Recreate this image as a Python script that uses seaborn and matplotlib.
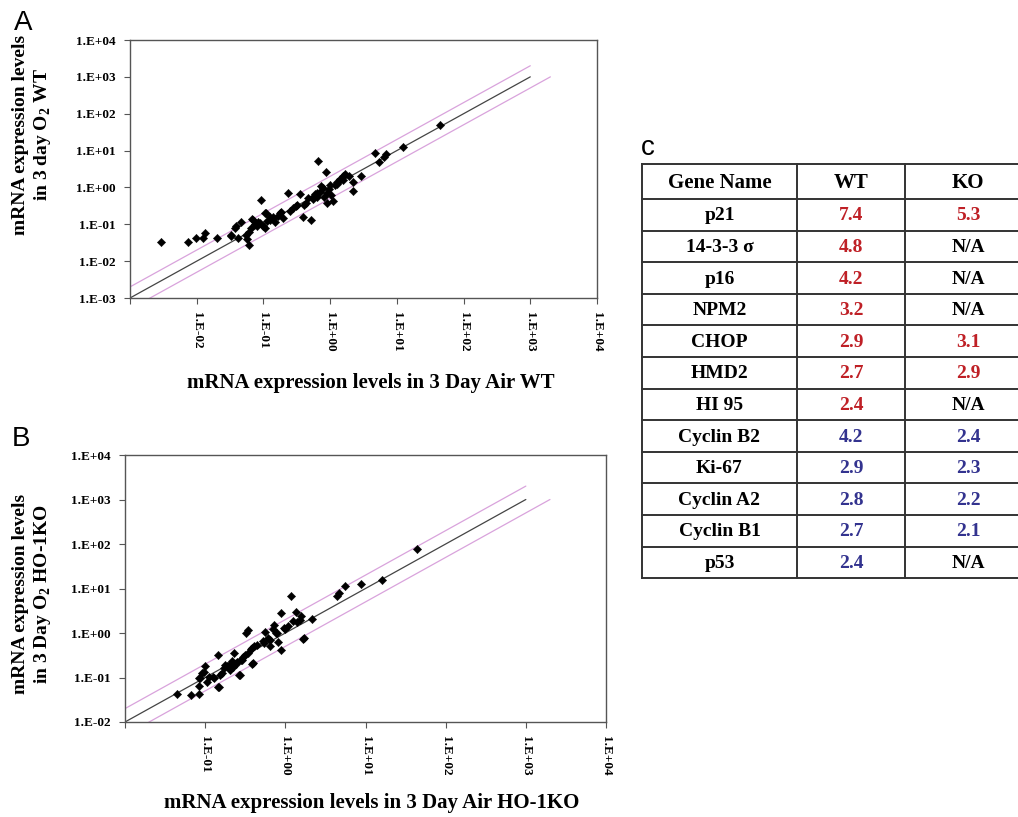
import numpy as np
import pandas as pd
import matplotlib
matplotlib.use("Agg")
import matplotlib.pyplot as plt
import seaborn as sns

# ---- data (log10 values) ----
wt_air_log = [-2.54, -2.13, -2.01, -1.91, -1.87, -1.69, -1.48, -1.41, -1.38, -1.34,
              -1.26, -1.24, -1.22, -1.21, -1.19, -1.17, -1.13, -1.08, -1.03, -1.01,
              -0.98, -0.96, -0.94, -0.90, -0.86, -0.83, -0.78, -0.74, -0.70, -0.63,
              -0.60, -0.51, -0.45, -0.41, -0.39, -0.36, -0.29, -0.26, -0.23, -0.20,
              -0.18, -0.15, -0.13, -0.09, -0.06, -0.04, -0.01, 0.01, 0.04, 0.07,
              0.10, 0.13, 0.15, 0.19, 0.23, 0.34, 0.35, 0.46, 0.67, 0.73,
              0.80, 0.84, 1.09, 1.64, -0.75, -0.85, -0.90, -0.98, -1.05, -1.10,
              -1.15, 0.10, 0.00, -0.10, -0.20, -0.25, -0.50, -1.43, -1.48, -0.55,
              -0.33, -0.05, 0.20, 0.28]
wt_o2_log = [-1.47, -1.47, -1.38, -1.38, -1.24, -1.38, -1.31, -1.05, -1.37, -0.93,
             -1.29, -1.41, -1.56, -1.22, -1.11, -0.86, -0.99, -0.93, -0.33, -1.04,
             -1.11, -0.69, -0.90, -0.81, -0.87, -0.93, -0.78, -0.66, -0.84, -0.14,
             -0.63, -0.51, -0.18, -0.81, -0.48, -0.41, -0.88, -0.32, -0.18, -0.27,
             0.72, -0.12, 0.05, -0.27, 0.41, -0.41, -0.05, -0.21, -0.36, 0.06,
             0.09, 0.18, 0.24, 0.32, 0.36, -0.11, 0.14, 0.32, 0.93, 0.68,
             0.83, 0.90, 1.11, 1.69, -0.70, -0.79, -0.88, -0.70, -0.97, -1.06,
             -0.88, 0.16, 0.07, -0.02, -0.15, -0.25, -0.47, -1.10, -1.28, -0.55,
             -0.30, -0.15, 0.20, 0.30]

ko_air_log = [-1.35, -1.18, -1.08, -1.08, -1.08, -1.04, -1.00, -0.98, -0.95, -0.89,
              -0.84, -0.84, -0.82, -0.79, -0.76, -0.73, -0.70, -0.66, -0.64, -0.58,
              -0.55, -0.53, -0.49, -0.47, -0.46, -0.43, -0.41, -0.39, -0.35, -0.28,
              -0.25, -0.22, -0.19, -0.16, -0.14, -0.12, -0.09, -0.05, -0.05, -0.01,
              0.03, 0.07, 0.10, 0.13, 0.18, 0.20, 0.22, 0.33, 0.65, 0.67,
              0.74, 0.95, 1.20, 1.64, -0.69, -0.65, -0.75, -0.54, -0.50, -0.42,
              -0.27, -0.19, -0.10, -0.02, 0.15, -1.02, -1.06, -0.90, -0.83, -0.56,
              -0.40, 0.23, -0.62, -0.60, -0.68]
ko_o2_log = [-1.37, -1.39, -1.37, -1.20, -1.02, -0.90, -0.75, -1.09, -0.98, -1.02,
             -0.49, -1.22, -0.95, -0.90, -0.79, -0.75, -0.71, -0.64, -0.45, -0.94,
             -0.60, -0.53, 0.00, 0.06, -0.45, -0.36, -0.70, -0.30, -0.26, -0.19,
             0.02, -0.11, -0.30, 0.09, 0.17, 0.00, -0.21, -0.38, 0.44, 0.08,
             0.15, 0.83, 0.26, 0.47, 0.30, 0.38, -0.13, 0.32, 0.84, 0.89,
             1.05, 1.09, 1.19, 1.88, -0.83, -0.76, -0.72, -0.61, -0.49, -0.34,
             -0.23, -0.16, -0.01, 0.11, 0.25, -0.87, -1.02, -0.98, -1.21, -0.94,
             -0.68, -0.12, -0.70, -0.66, -0.72]

fold_lines = [0.5, 1.0, 2.0]   # y = fold * x reference lines
line_top = 1e3

genes = ["p21", "14-3-3 σ", "p16", "NPM2", "CHOP", "HMD2", "HI 95",
         "Cyclin B2", "Ki-67", "Cyclin A2", "Cyclin B1", "p53"]
wt_fold = ["7.4", "4.8", "4.2", "3.2", "2.9", "2.7", "2.4",
           "4.2", "2.9", "2.8", "2.7", "2.4"]
ko_fold = ["5.3", "N/A", "N/A", "N/A", "3.1", "2.9", "N/A",
           "2.4", "2.3", "2.2", "2.1", "N/A"]
direction = ["up"] * 7 + ["down"] * 5

df_a = pd.DataFrame({"air": np.power(10.0, wt_air_log), "o2": np.power(10.0, wt_o2_log)})
df_b = pd.DataFrame({"air": np.power(10.0, ko_air_log), "o2": np.power(10.0, ko_o2_log)})

# ---- style ----
sns.set_theme(style="ticks")
plt.rcParams["font.family"] = ["Liberation Serif", "DejaVu Serif"]
plt.rcParams["font.weight"] = "bold"
plt.rcParams["text.color"] = "black"
plt.rcParams["xtick.labelcolor"] = "black"
plt.rcParams["ytick.labelcolor"] = "black"
plt.rcParams["mathtext.fontset"] = "custom"
plt.rcParams["mathtext.rm"] = "Liberation Serif:bold"

W, H = 1018, 817
fig = plt.figure(figsize=(W / 100, H / 100), dpi=100)


def px_axes(left, top, right, bottom):
    return fig.add_axes([left / W, 1 - bottom / H, (right - left) / W, (bottom - top) / H])


PINK = "#d9a3dc"
RED = "#bf2026"
BLUE = "#33338f"


def scatter_panel(ax, df, lo):
    for f in fold_lines:
        x_end = line_top / min(f, 1.0)
        xs = np.array([lo, x_end])
        line_df = pd.DataFrame({"x": xs, "y": xs * f})
        sns.lineplot(data=line_df, x="x", y="y", ax=ax,
                     color="#444444" if f == 1.0 else PINK,
                     lw=0.9, zorder=1)
    sns.scatterplot(data=df, x="air", y="o2", ax=ax, marker="D", s=18,
                    color="black", edgecolor="black", linewidth=0.3, zorder=3)
    ax.set_xscale("log")
    ax.set_yscale("log")
    ax.set_xlim(lo, 1e4)
    ax.set_ylim(lo, 1e4)
    ax.set_xlabel("")
    ax.set_ylabel("")
    decades = np.arange(int(np.log10(lo)), 5)
    ticks = [10.0 ** d for d in decades]
    labels = ["1.E%s%02d" % ("+" if d >= 0 else "-", abs(d)) for d in decades]
    ax.set_yticks(ticks)
    ax.set_yticklabels(labels)
    ax.set_xticks(ticks)
    ax.set_xticklabels([""] + labels[1:], rotation=-90, va="top")
    ax.minorticks_off()
    ax.tick_params(axis="both", length=4, width=0.8, color="#555555",
                   labelcolor="black", labelsize=9.5, pad=6)
    for lab in ax.get_xticklabels() + ax.get_yticklabels():
        lab.set_fontweight("bold")
    for sp in ax.spines.values():
        sp.set_visible(True)
        sp.set_color("#555555")
        sp.set_linewidth(1.0)


# Panel A
ax_a = px_axes(130, 40, 597, 298)
scatter_panel(ax_a, df_a, 1e-3)
fig.text(33 / W, 1 - 135 / H, "mRNA expression levels\nin 3 day O$_\\mathregular{2}$ WT",
         rotation=90, ha="center", va="center", multialignment="center",
         fontsize=14, fontweight="bold", color="black")
fig.text(371 / W, 1 - 383 / H, "mRNA expression levels in 3 Day Air WT",
         ha="center", va="center", fontsize=15, fontweight="bold", color="black")

# Panel B
ax_b = px_axes(125, 455, 606, 722)
scatter_panel(ax_b, df_b, 1e-2)
fig.text(33 / W, 1 - 594 / H, "mRNA expression levels\nin 3 Day O$_\\mathregular{2}$ HO-1KO",
         rotation=90, ha="center", va="center", multialignment="center",
         fontsize=14, fontweight="bold", color="black")
fig.text(372 / W, 1 - 803 / H, "mRNA expression levels in 3 Day Air HO-1KO",
         ha="center", va="center", fontsize=15, fontweight="bold", color="black")

# Panel letters
for letter, x, y in [("A", 23, 23), ("B", 21, 439), ("c", 648, 148)]:
    fig.text(x / W, 1 - y / H, letter, ha="center", va="center", fontsize=20,
             family="Liberation Sans", fontweight="normal", color="black")

# Table C
col_edges = [0, 155, 263, 389]
header_h = 35
row_h = 31.6
n_rows = len(genes)
tab_h = header_h + row_h * n_rows
ax_t = px_axes(642, 164, 642 + col_edges[-1], 164 + tab_h)
ax_t.set_xlim(0, col_edges[-1])
ax_t.set_ylim(tab_h, 0)
ax_t.axis("off")

row_edges = [0, header_h] + [header_h + row_h * (i + 1) for i in range(n_rows)]
for yv in row_edges:
    ax_t.plot([0, col_edges[-1]], [yv, yv], color="#333333", lw=1.4,
              solid_capstyle="projecting", clip_on=False)
for xv in col_edges:
    ax_t.plot([xv, xv], [0, tab_h], color="#333333", lw=1.4,
              solid_capstyle="projecting", clip_on=False)

centers = [(col_edges[i] + col_edges[i + 1]) / 2 for i in range(3)]
for c, head in zip(centers, ["Gene Name", "WT", "KO"]):
    ax_t.text(c, header_h / 2 + 1, head, ha="center", va="center",
              fontsize=15, fontweight="bold", color="black")
for i, (g, w, k, d) in enumerate(zip(genes, wt_fold, ko_fold, direction)):
    yc = header_h + row_h * (i + 0.5) + 1
    col = RED if d == "up" else BLUE
    ax_t.text(centers[0], yc, g, ha="center", va="center", fontsize=14,
              fontweight="bold", color="black")
    ax_t.text(centers[1], yc, w, ha="center", va="center", fontsize=14,
              fontweight="bold", color=col)
    ax_t.text(centers[2], yc, k, ha="center", va="center", fontsize=14,
              fontweight="bold", color="black" if k == "N/A" else col)

fig.savefig("out.png", dpi=100)
